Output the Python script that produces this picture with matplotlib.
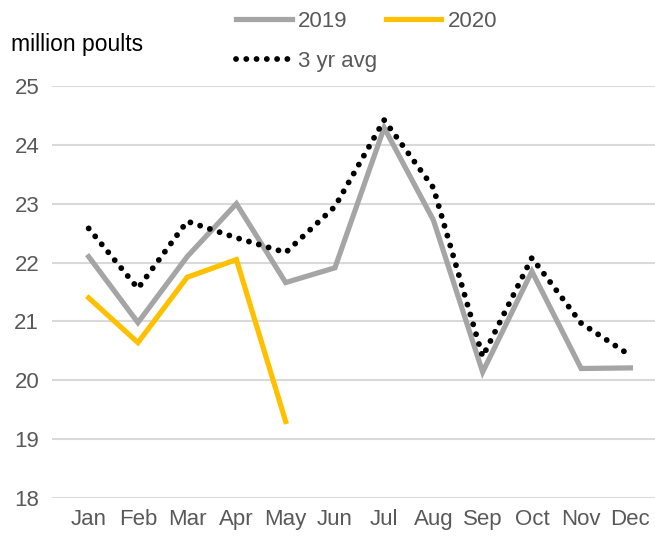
import numpy as np
import matplotlib.pyplot as plt

plt.rcParams['font.family'] = ['Liberation Sans', 'DejaVu Sans']

months = ["Jan", "Feb", "Mar", "Apr", "May", "Jun", "Jul", "Aug", "Sep", "Oct", "Nov", "Dec"]
y2019 = [22.1, 20.98, 22.1, 23.0, 21.66, 21.91, 24.29, 22.72, 20.14, 21.85, 20.2, 20.21]
y2020 = [21.4, 20.64, 21.75, 22.05, 19.3]
avg3 = [22.58, 21.56, 22.7, 22.42, 22.17, 22.95, 24.42, 23.27, 20.4, 22.08, 20.97, 20.42]

x = np.arange(len(months))

fig = plt.figure(figsize=(6.55, 5.37), dpi=100)
ax = fig.add_axes([0.079, 0.0726, 0.921, 0.7674])

l1, = ax.plot(x, y2019, color="#A5A5A5", lw=3.75, solid_joinstyle="miter", zorder=3)
l2, = ax.plot(x[:len(y2020)], y2020, color="#FFC000", lw=3.75, solid_joinstyle="miter", zorder=4)
l3, = ax.plot(x, avg3, color="black", lw=4.2, linestyle=(0, (0.01, 1.75)),
              dash_capstyle="round", zorder=5)

ax.set_ylim(18, 25)
ax.set_xlim(-0.75, 11.5)
ax.set_yticks(range(18, 26))
ax.set_xticks(x)
ax.set_xticklabels(months)
ax.tick_params(length=0, labelsize=16, labelcolor="#595959", pad=8)
ax.tick_params(axis="y", pad=9)
ax.grid(axis="y", color="#D9D9D9", lw=1.5)
ax.set_axisbelow(True)
for s in ax.spines.values():
    s.set_visible(False)

fig.text(0.017, 0.905, "million poults", fontsize=16.5, color="black")

# legend: two rows, first row 2019 + 2020, second row the average
legkw = dict(loc="upper left", frameon=False, fontsize=16, labelcolor="#595959",
             handlelength=2.5, handletextpad=0.3)
fig.legend([l1, l2], ["2019", "2020"], ncol=2, bbox_to_anchor=(0.33, 1.017),
           columnspacing=1.7, **legkw)
fig.legend([l3], ["3 yr avg"], bbox_to_anchor=(0.33, 0.942), **legkw)

plt.savefig("out.png", dpi=100)
